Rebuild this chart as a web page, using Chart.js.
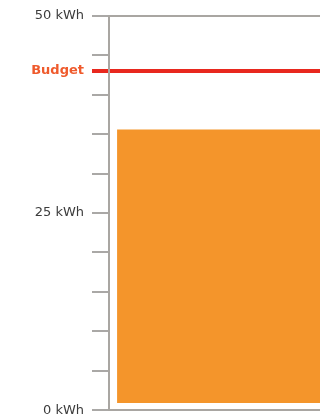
<!DOCTYPE html>
<html>
<head>
<meta charset="utf-8">
<script src="https://cdn.jsdelivr.net/npm/chart.js@4"></script>
<style>
  html, body { margin: 0; padding: 0; background: #fff; overflow: hidden; }
  #wrap { width: 340px; height: 426px; }
</style>
</head>
<body>
<div id="wrap"><canvas id="energyChart" width="340" height="426"></canvas></div>
<script>
// chart values
const categories = ["Usage"];
const usageRange = [[0.9, 35.6]]; // bar floats a little above the baseline
const budgetValue = 43;
const tickValues = [0, 5, 10, 15, 20, 25, 30, 35, 40, 45, 50];
const labeledTicks = [0, 25, 50];

const axisGray = "#a9a6a2";
const budgetRed = "#e8281e";

// tick value from a scriptable context (tick can be missing)
const tv = (c) => (c && c.tick ? c.tick.value : null);

const ctx = document.getElementById("energyChart").getContext("2d");

new Chart(ctx, {
  type: "bar",
  data: {
    labels: categories,
    datasets: [{
      data: usageRange,
      backgroundColor: "#f4952b",
      borderWidth: 0,
      barPercentage: 1,
      categoryPercentage: 0.93
    }]
  },
  options: {
    responsive: false,
    animation: false,
    devicePixelRatio: 1,
    layout: { padding: { top: 15, right: 0, left: 0, bottom: 2 } },
    plugins: {
      legend: { display: false },
      tooltip: { enabled: false }
    },
    scales: {
      x: {
        display: false
      },
      y: {
        min: 0,
        max: 50,
        afterBuildTicks: (scale) => {
          scale.ticks = tickValues.concat([budgetValue])
            .sort((a, b) => a - b)
            .map((v) => ({ value: v }));
        },
        afterFit: (scale) => { scale.width = 109; },
        border: { display: true, color: axisGray, width: 2 },
        grid: {
          drawOnChartArea: true,
          tickLength: 17,
          color: (c) => {
            const v = tv(c);
            if (v === budgetValue) return budgetRed;
            if (v === 50 || v === 0) return axisGray;
            return "rgba(0,0,0,0)";
          },
          lineWidth: (c) => (tv(c) === budgetValue ? 4 : 2),
          tickColor: (c) => (tv(c) === budgetValue ? budgetRed : "#8e8b88"),
          tickWidth: (c) => (tv(c) === budgetValue ? 4 : 1.5)
        },
        ticks: {
          padding: 8,
          autoSkip: false,
          color: (c) => (tv(c) === budgetValue ? "#ef5a2c" : "#3c3c3c"),
          font: (c) => tv(c) === budgetValue
            ? { family: "DejaVu Sans", size: 13, weight: "bold" }
            : { family: "DejaVu Sans", size: 13 },
          callback: (v) => {
            if (v === budgetValue) return "Budget";
            if (labeledTicks.includes(v)) return v + " kWh";
            return "";
          }
        }
      }
    }
  }
});
</script>
</body>
</html>
